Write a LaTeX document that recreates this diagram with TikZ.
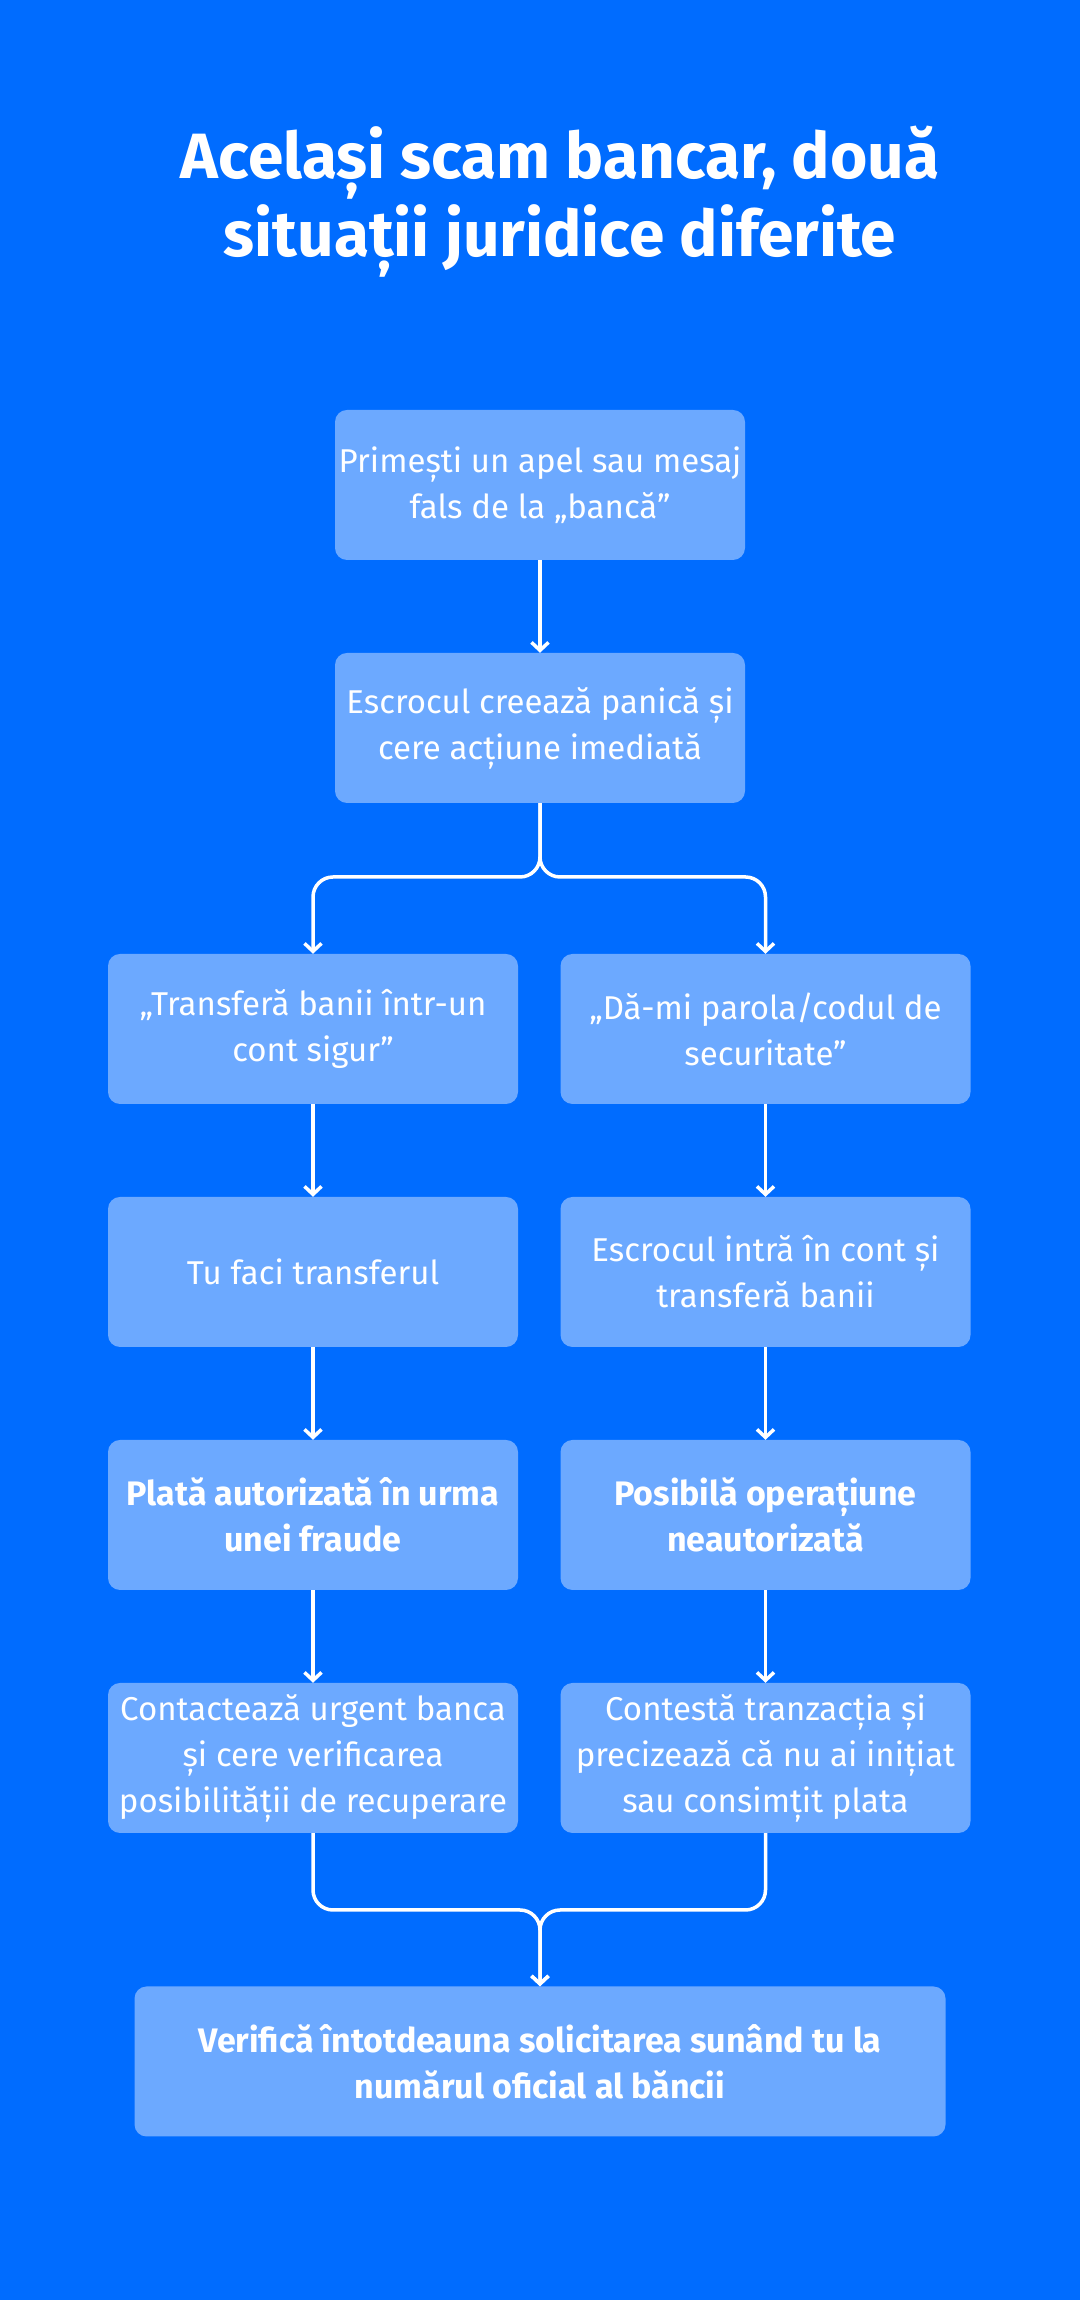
\documentclass[tikz,border=0pt]{standalone}
\usepackage{fontspec}
\setmainfont{Fira Sans}
\usetikzlibrary{arrows.meta}
\definecolor{bgblue}{RGB}{0,108,255}
\definecolor{boxblue}{RGB}{108,169,255}
\tikzset{
  stepbox/.style={fill=boxblue, rounded corners=12pt, minimum width=410pt,
    minimum height=150pt, inner sep=0pt, text=white, align=center,
    font=\fontsize{33}{46}\selectfont},
  keybox/.style={stepbox, font=\fontsize{34}{46}\selectfont\bfseries},
  flow/.style={draw=white, line width=3.5pt, rounded corners=20pt, ->}
}
\begin{document}
\begin{tikzpicture}[x=1pt, y=1pt, >={Straight Barb[length=8pt,width=17pt]}, node distance=243pt]
  \fill[bgblue] (0,0) rectangle (1080,2300);
  \useasboundingbox (0,0) rectangle (1080,2300);
  \node (title) [anchor=base, text=white, align=center, font=\fontsize{64}{78}\selectfont\bfseries]
    at (560,2043) {Același scam bancar, două\\situații juridice diferite};
  \node (call)  [stepbox] at (540,1815) {Primești un apel sau mesaj\\fals de la „bancă”};
  \node (panic) [stepbox, below of=call] {Escrocul creează panică și\\cere acțiune imediată};
  \coordinate (split) at (540,1423);
  \node (ask1)  [stepbox] at (313,1271) {„Transferă banii într-un\\cont sigur”};
  \node (ask2)  [stepbox] at (765.5,1271) {„Dă-mi parola/codul de\\securitate”};
  \node (act1)  [stepbox, below of=ask1] {Tu faci transferul};
  \node (act2)  [stepbox, below of=ask2] {Escrocul intră în cont și\\transferă banii};
  \node (law1)  [keybox, below of=act1] {Plată autorizată în urma\\unei fraude};
  \node (law2)  [keybox, below of=act2] {Posibilă operațiune\\neautorizată};
  \node (do1)   [stepbox, below of=law1] {Contactează urgent banca\\și cere verificarea\\posibilității de recuperare};
  \node (do2)   [stepbox, below of=law2] {Contestă tranzacția și\\precizează că nu ai inițiat\\sau consimțit plata};
  \coordinate (merge) at (540,390);
  \node (tip)   [keybox, minimum width=811pt] at (540,238.5) {Verifică întotdeauna solicitarea sunând tu la\\numărul oficial al băncii};
  \path[flow] (call) edge (panic)
              (ask1) edge (act1)
              (act1) edge (law1)
              (law1) edge (do1)
              (ask2) edge (act2)
              (act2) edge (law2)
              (law2) edge (do2);
  \draw[flow] (panic) -- (split) -| (ask1);
  \draw[flow] (panic) -- (split) -| (ask2);
  \draw[flow] (do1) |- (merge) -- (tip);
  \draw[flow] (do2) |- (merge) -- (tip);
\end{tikzpicture}
\end{document}
